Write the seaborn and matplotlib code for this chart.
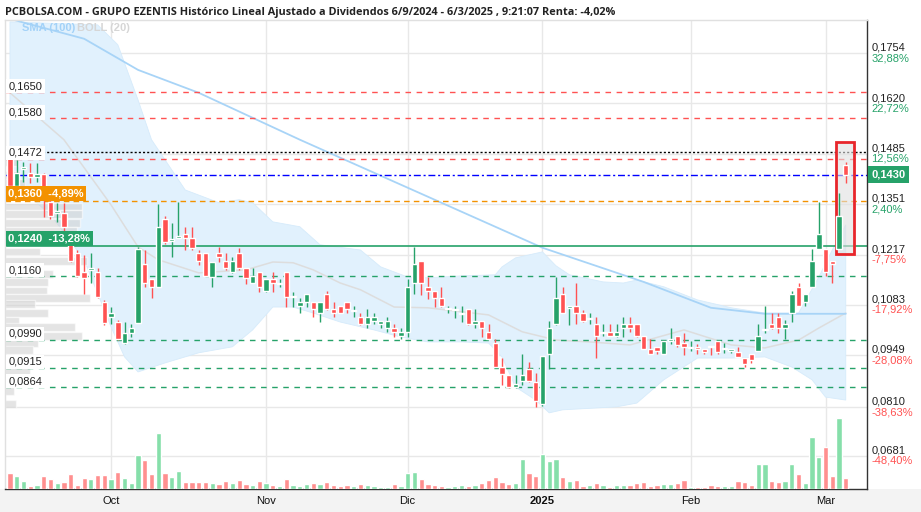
import numpy as np
import pandas as pd
import matplotlib
matplotlib.use("Agg")
import matplotlib.pyplot as plt
import seaborn as sns
from matplotlib.patches import Rectangle

sns.set_theme(style="white")
plt.rcParams['font.family'] = ['Liberation Sans', 'DejaVu Sans']

# daily OHLC (10/9/2024 .. 6/3/2025)
opens = [0.1475, 0.1400, 0.1445, 0.1435, 0.1424, 0.1432, 0.1357, 0.1328, 0.1328, 0.1256,
         0.1221, 0.1171, 0.1176, 0.1171, 0.1091, 0.1051, 0.1037, 0.0981, 0.1008, 0.1035,
         0.1192, 0.1152, 0.1131, 0.1312, 0.1253, 0.1261, 0.1272, 0.1261, 0.1221, 0.1221,
         0.1157, 0.1221, 0.1200, 0.1171, 0.1221, 0.1181, 0.1141, 0.1171, 0.1120, 0.1152,
         0.1139, 0.1171, 0.1104, 0.1080, 0.1091, 0.1091, 0.1061, 0.1112, 0.1072, 0.1080,
         0.1091, 0.1067, 0.1051, 0.1032, 0.1040, 0.1032, 0.1021, 0.1021, 0.1000, 0.1011,
         0.1141, 0.1200, 0.1131, 0.1120, 0.1101, 0.1072, 0.1069, 0.1059, 0.1072, 0.1032,
         0.1040, 0.1011, 0.0981, 0.0917, 0.0896, 0.0864, 0.0880, 0.0912, 0.0877, 0.0819,
         0.0952, 0.1032, 0.1112, 0.1075, 0.1080, 0.1061, 0.1045, 0.1032, 0.1008, 0.1011,
         0.1000, 0.1021, 0.1032, 0.1032, 0.1000, 0.0965, 0.0971, 0.0952, 0.0987, 0.1000,
         0.0981, 0.0968, 0.0971, 0.0965, 0.0973, 0.0987, 0.0965, 0.0960, 0.0957, 0.0941,
         0.0952, 0.0960, 0.1016, 0.1032, 0.1051, 0.1021, 0.1061, 0.1131, 0.1091, 0.1131,
         0.1232, 0.1232, 0.1200, 0.1232, 0.1456]
highs = [0.1480, 0.1469, 0.1464, 0.1461, 0.1461, 0.1435, 0.1363, 0.1355, 0.1355, 0.1277,
         0.1229, 0.1216, 0.1221, 0.1181, 0.1096, 0.1077, 0.1043, 0.1037, 0.1032, 0.1237,
         0.1229, 0.1152, 0.1352, 0.1320, 0.1301, 0.1357, 0.1291, 0.1291, 0.1229, 0.1221,
         0.1197, 0.1237, 0.1221, 0.1211, 0.1235, 0.1181, 0.1181, 0.1171, 0.1152, 0.1171,
         0.1152, 0.1171, 0.1117, 0.1101, 0.1112, 0.1091, 0.1091, 0.1120, 0.1091, 0.1080,
         0.1091, 0.1080, 0.1061, 0.1072, 0.1061, 0.1040, 0.1051, 0.1032, 0.1021, 0.1152,
         0.1237, 0.1200, 0.1157, 0.1120, 0.1131, 0.1080, 0.1080, 0.1080, 0.1072, 0.1072,
         0.1040, 0.1032, 0.0992, 0.0941, 0.0896, 0.0896, 0.0952, 0.0931, 0.0901, 0.0947,
         0.1040, 0.1157, 0.1131, 0.1080, 0.1141, 0.1069, 0.1061, 0.1051, 0.1032, 0.1032,
         0.1032, 0.1051, 0.1051, 0.1032, 0.1000, 0.0992, 0.0971, 0.0987, 0.1021, 0.1000,
         0.1008, 0.0987, 0.0979, 0.0965, 0.0973, 0.0987, 0.0981, 0.0965, 0.0971, 0.0941,
         0.0952, 0.1032, 0.1080, 0.1061, 0.1061, 0.1043, 0.1120, 0.1141, 0.1112, 0.1232,
         0.1357, 0.1232, 0.1200, 0.1381, 0.1464]
lows = [0.1389, 0.1397, 0.1411, 0.1408, 0.1411, 0.1317, 0.1312, 0.1304, 0.1275, 0.1197,
        0.1157, 0.1112, 0.1141, 0.1101, 0.1029, 0.1032, 0.0989, 0.0979, 0.0997, 0.1035,
        0.1131, 0.1101, 0.1131, 0.1245, 0.1211, 0.1261, 0.1229, 0.1229, 0.1189, 0.1160,
        0.1131, 0.1197, 0.1176, 0.1168, 0.1176, 0.1139, 0.1141, 0.1117, 0.1117, 0.1117,
        0.1131, 0.1077, 0.1077, 0.1061, 0.1077, 0.1051, 0.1037, 0.1069, 0.1051, 0.1061,
        0.1061, 0.1051, 0.1029, 0.1021, 0.1032, 0.1021, 0.1011, 0.0997, 0.0992, 0.0997,
        0.1112, 0.1109, 0.1099, 0.1077, 0.1077, 0.1061, 0.1048, 0.1037, 0.1029, 0.1021,
        0.0997, 0.0992, 0.0917, 0.0869, 0.0861, 0.0861, 0.0869, 0.0877, 0.0811, 0.0813,
        0.0912, 0.1029, 0.1061, 0.1029, 0.1032, 0.1037, 0.1032, 0.0941, 0.1000, 0.1000,
        0.0997, 0.0997, 0.1011, 0.0997, 0.0965, 0.0952, 0.0952, 0.0952, 0.0979, 0.0971,
        0.0949, 0.0960, 0.0952, 0.0952, 0.0949, 0.0952, 0.0955, 0.0955, 0.0944, 0.0917,
        0.0928, 0.0960, 0.1008, 0.1019, 0.1008, 0.0992, 0.1037, 0.1080, 0.1080, 0.1131,
        0.1232, 0.1160, 0.1141, 0.1232, 0.1408]
closes = [0.1400, 0.1435, 0.1451, 0.1424, 0.1432, 0.1376, 0.1320, 0.1333, 0.1291, 0.1200,
          0.1160, 0.1155, 0.1181, 0.1104, 0.1035, 0.1061, 0.0992, 0.1008, 0.1021, 0.1232,
          0.1141, 0.1131, 0.1291, 0.1251, 0.1259, 0.1267, 0.1261, 0.1235, 0.1200, 0.1160,
          0.1197, 0.1211, 0.1181, 0.1200, 0.1181, 0.1155, 0.1160, 0.1131, 0.1152, 0.1141,
          0.1141, 0.1104, 0.1107, 0.1091, 0.1112, 0.1072, 0.1091, 0.1072, 0.1061, 0.1061,
          0.1072, 0.1069, 0.1032, 0.1051, 0.1051, 0.1040, 0.1040, 0.1011, 0.1011, 0.1131,
          0.1192, 0.1141, 0.1120, 0.1101, 0.1080, 0.1075, 0.1072, 0.1061, 0.1032, 0.1040,
          0.1021, 0.0992, 0.0917, 0.0899, 0.0864, 0.0872, 0.0896, 0.0880, 0.0827, 0.0947,
          0.1021, 0.1101, 0.1061, 0.1080, 0.1061, 0.1040, 0.1048, 0.1000, 0.1011, 0.1000,
          0.1011, 0.1032, 0.1021, 0.1000, 0.0965, 0.0952, 0.0960, 0.0987, 0.0992, 0.0976,
          0.0971, 0.0971, 0.0965, 0.0957, 0.0971, 0.0957, 0.0968, 0.0965, 0.0944, 0.0925,
          0.0936, 0.1000, 0.1019, 0.1021, 0.1021, 0.1032, 0.1112, 0.1080, 0.1112, 0.1200,
          0.1272, 0.1171, 0.1192, 0.1320, 0.1430]
volumes = [16, 13, 8, 3, 4, 13, 10, 6, 7, 15, 4, 11, 10, 14, 14, 10, 17, 11, 6, 34,
           29, 15, 56, 16, 12, 18, 7, 7, 7, 7, 6, 5, 8, 6, 9, 5, 4, 8, 6, 4,
           3, 10, 4, 3, 5, 6, 5, 7, 4, 3, 4, 3, 5, 4, 3, 2, 2, 5, 3, 16,
           17, 10, 5, 4, 3, 2, 3, 4, 3, 4, 6, 9, 12, 7, 5, 6, 30, 16, 13, 35,
           28, 30, 12, 8, 9, 3, 4, 6, 4, 2, 4, 4, 4, 6, 7, 3, 4, 5, 5, 6,
           9, 2, 2, 2, 4, 3, 3, 3, 8, 7, 4, 25, 25, 8, 7, 8, 25, 15, 6, 52,
           32, 42, 13, 71, 11]

# SMA(100) and Bollinger(20)
sma_idx = [0, 11, 19, 28, 43, 62, 79, 94, 104, 112, 124]
sma_val = [0.1845, 0.1792, 0.1709, 0.1648, 0.1523, 0.1371, 0.1235, 0.1144, 0.1075, 0.1059, 0.1059]
up_idx = [0, 13, 16, 19, 21, 26, 31, 34, 36, 39, 43, 46, 52, 55, 59, 62, 67, 72, 73, 75, 79,
          81, 83, 88, 91, 93, 97, 102, 107, 112, 117, 120, 122, 124]
up_val = [0.1837, 0.1829, 0.1776, 0.1629, 0.1523, 0.1389, 0.1355, 0.1363, 0.1355, 0.1304,
          0.1291, 0.1243, 0.1229, 0.1184, 0.1157, 0.1155, 0.1160, 0.1163, 0.1184, 0.1208,
          0.1224, 0.1187, 0.1163, 0.1144, 0.1141, 0.1149, 0.1131, 0.1096, 0.1075, 0.1061,
          0.1061, 0.1157, 0.1229, 0.1296]
lo_idx = [0, 6, 11, 15, 17, 19, 23, 28, 33, 36, 39, 42, 45, 49, 54, 58, 62, 67, 71, 73, 75,
          78, 80, 82, 87, 90, 93, 97, 102, 107, 112, 116, 119, 121, 124]
lo_val = [0.1416, 0.1323, 0.1203, 0.1024, 0.0944, 0.0904, 0.0928, 0.0955, 0.0971, 0.1016,
          0.1077, 0.1077, 0.1061, 0.1037, 0.1016, 0.0997, 0.0984, 0.0984, 0.0981, 0.0944,
          0.0864, 0.0829, 0.0795, 0.0803, 0.0808, 0.0811, 0.0821, 0.0883, 0.0941, 0.0941,
          0.0944, 0.0917, 0.0883, 0.0837, 0.0829]
mid_idx = [0, 8, 15, 19, 22, 28, 35, 39, 42, 45, 49, 52, 57, 62, 71, 76, 81, 86, 92, 100,
           107, 112, 117, 120, 124]
mid_val = [0.1648, 0.1523, 0.1349, 0.1237, 0.1203, 0.1168, 0.1176, 0.1197, 0.1195, 0.1176,
           0.1141, 0.1123, 0.1077, 0.1075, 0.1056, 0.1011, 0.0989, 0.0984, 0.0976, 0.1016,
           0.0976, 0.0968, 0.0989, 0.1021, 0.1061]

# volume at price (left profile)
vp_price = [0.1463, 0.1429, 0.1407, 0.1345, 0.1325, 0.1300, 0.1280, 0.1225, 0.1199, 0.1165,
            0.1143, 0.1121, 0.1101, 0.1084, 0.1061, 0.1041, 0.1023, 0.1000, 0.0980, 0.0963,
            0.0936, 0.0907, 0.0853, 0.0819]
vp_vol = [13, 15, 20, 77, 77, 75, 72, 35, 82, 48, 43, 42, 85, 30, 43, 14, 70, 77, 33, 28,
          15, 25, 9, 11]

resist = [0.1650, 0.1580, 0.1472]
supports = [0.1160, 0.0990, 0.0915, 0.0864]
prev_close = 0.1490
last_price = 0.1430
stop_lvl, stop_txt = 0.1360, "0,1360  -4,89%"
buy_lvl, buy_txt = 0.1240, "0,1240  -13,28%"
yticks = [0.1754, 0.1620, 0.1485, 0.1351, 0.1217, 0.1083, 0.0949, 0.0810, 0.0681]
ypct = ["32,88%", "22,72%", "12,56%", "2,40%", "-7,75%", "-17,92%", "-28,08%", "-38,63%", "-48,40%"]
month_labels = ["Oct", "Nov", "Dic", "2025", "Feb", "Mar"]

GREEN = "#26a269"
RED = "#ff5252"

dates = pd.bdate_range("2024-09-10", "2025-03-06")
dates = dates[~dates.isin(pd.to_datetime(["2024-12-25", "2024-12-26", "2025-01-01"]))]
x = np.arange(len(dates))
per = dates.to_period("M")
month_pos = [i for i in range(1, len(per)) if per[i] != per[i - 1]]

o, h, l, c = map(np.array, (opens, highs, lows, closes))
up = c >= o
col = np.where(up, GREEN, RED)

fig = plt.figure(figsize=(9.21, 5.12), dpi=100)
fig.patch.set_facecolor("white")
fig.patches.append(Rectangle((0, 0), 1, 23 / 512, transform=fig.transFigure,
                             facecolor="#f3f3f3", edgecolor="none", zorder=-10))
ax = fig.add_axes([5 / 921, 23 / 512, 862 / 921, 469 / 512])
ax.set_xlim(-0.74, 127.15)
ax.set_ylim(0.0592, 0.1842)

# grid
for t in yticks:
    ax.axhline(t, color="#e8e8e8", lw=1, zorder=0)
for p in month_pos:
    ax.axvline(p, color="#e8e8e8", lw=1, zorder=0)

# bollinger band
ax.fill(np.r_[up_idx, lo_idx[::-1]], np.r_[up_val, lo_val[::-1]],
        facecolor="#e1f1fd", edgecolor="#d6ebfb", lw=0.6, zorder=1)
sns.lineplot(x=mid_idx, y=mid_val, ax=ax, color="#dddddd", lw=1.1, zorder=1.5)
sns.lineplot(x=sma_idx, y=sma_val, ax=ax, color="#a8d4f7", lw=1.3, zorder=1.6)

# volume profile
xr = ax.get_xlim()
k = (xr[1] - xr[0]) * (85 / 862) / max(vp_vol)
ax.barh(vp_price, np.array(vp_vol) * k, left=xr[0], height=0.0021,
        color="#cfcfcf", alpha=0.55, zorder=2)

# levels
for lv in resist:
    ax.axhline(lv, color=RED, lw=1, ls=(0, (4, 4)), zorder=2.5)
ax.axhline(prev_close, color="black", lw=1, ls=(0, (1.5, 1.5)), zorder=2.5)
ax.axhline(last_price, color="#0000ff", lw=1, ls=(0, (5, 2, 1.5, 2)), zorder=2.5)
ax.axhline(stop_lvl, color="#f39200", lw=1, ls=(0, (4, 3)), zorder=2.5)
ax.axhline(buy_lvl, color=GREEN, lw=1.2, zorder=2.5)
for lv in supports:
    ax.axhline(lv, color=GREEN, lw=1, ls=(0, (4, 4)), zorder=2.5)

# highlight box
ax.add_patch(Rectangle((122.55, 0.1218), 2.65, 0.0299, facecolor=(0.88, 0.88, 0.88, 0.6),
                       edgecolor="#e8262b", lw=2, zorder=3))

# candles
ax.vlines(x, l, h, color=col, lw=1, zorder=4)
body = np.maximum(np.abs(c - o), 0.0003)
ax.bar(x, body, bottom=np.minimum(o, c), width=0.8, color=col, zorder=4.5)

# volume
axv = ax.twinx()
axv.set_ylim(0, max(volumes) * 469 / 71)
axv.bar(x, volumes, width=0.78, color=np.where(up, "#86dfaa", "#ff8f8f"), zorder=1)
axv.set_yticks([])
axv.set_xlim(ax.get_xlim())
for s in axv.spines.values():
    s.set_visible(False)

# left labels
def left_label(lv, txt, dy=4.2, fc="white", tc="#222222", bold=False):
    ax.annotate(txt, xy=(0, lv), xycoords=("axes fraction", "data"), xytext=(2.5, dy),
                textcoords="offset points", ha="left", va="center", fontsize=8,
                color=tc, fontweight="bold" if bold else "normal", zorder=6,
                bbox=dict(boxstyle="square,pad=0.2", fc=fc, ec="none"))

for lv in resist + supports:
    left_label(lv, f"{lv:.4f}".replace(".", ","))
left_label(stop_lvl, stop_txt, dy=5.4, fc="#f39200", tc="white", bold=True)
left_label(buy_lvl, buy_txt, dy=5.4, fc=GREEN, tc="white", bold=True)

# right axis labels
for t, pc in zip(yticks, ypct):
    ax.annotate(f"{t:.4f}".replace(".", ","), xy=(1, t), xycoords=("axes fraction", "data"),
                xytext=(3, 3.8), textcoords="offset points", ha="left", va="center",
                fontsize=8, color="#222222", annotation_clip=False)
    ax.annotate(pc, xy=(1, t), xycoords=("axes fraction", "data"),
                xytext=(3, -3.6), textcoords="offset points", ha="left", va="center",
                fontsize=8, color=RED if pc.startswith("-") else GREEN, annotation_clip=False)
ax.annotate(f"{last_price:.4f}".replace(".", ","), xy=(1, last_price),
            xycoords=("axes fraction", "data"), xytext=(3, 0), textcoords="offset points",
            ha="left", va="center", fontsize=8, color="white", fontweight="bold",
            annotation_clip=False, zorder=7,
            bbox=dict(boxstyle="square,pad=0.3", fc=GREEN, ec="none"))

ax.set_yticks([])
ax.set_xticks(month_pos)
ax.set_xticklabels(month_labels, fontsize=8, color="#111111")
for lab in ax.get_xticklabels():
    if lab.get_text() == "2025":
        lab.set_fontweight("bold")
ax.tick_params(axis="x", length=0, pad=5)
for side, s in ax.spines.items():
    s.set_color("#e0e0e0")
    s.set_linewidth(1)
ax.spines["right"].set_color("#333333")
ax.spines["bottom"].set_color("#333333")

fig.text(5 / 921, 1 - 12 / 512, "PCBOLSA.COM - GRUPO EZENTIS Histórico Lineal Ajustado a Dividendos "
         "6/9/2024 - 6/3/2025 , 9:21:07 Renta: -4,02%", fontsize=7.8, fontweight="bold",
         family=["Open Sans", "DejaVu Sans"], color="#222222", va="center", ha="left")
fig.text(22 / 921, 1 - 28 / 512, "SMA (100)", fontsize=8, fontweight="bold", color="#a3d2f8",
         va="center")
fig.text(77 / 921, 1 - 28 / 512, "BOLL (20)", fontsize=8, fontweight="bold", color="#d6d6d6",
         va="center")

fig.savefig("out.png", dpi=100)
